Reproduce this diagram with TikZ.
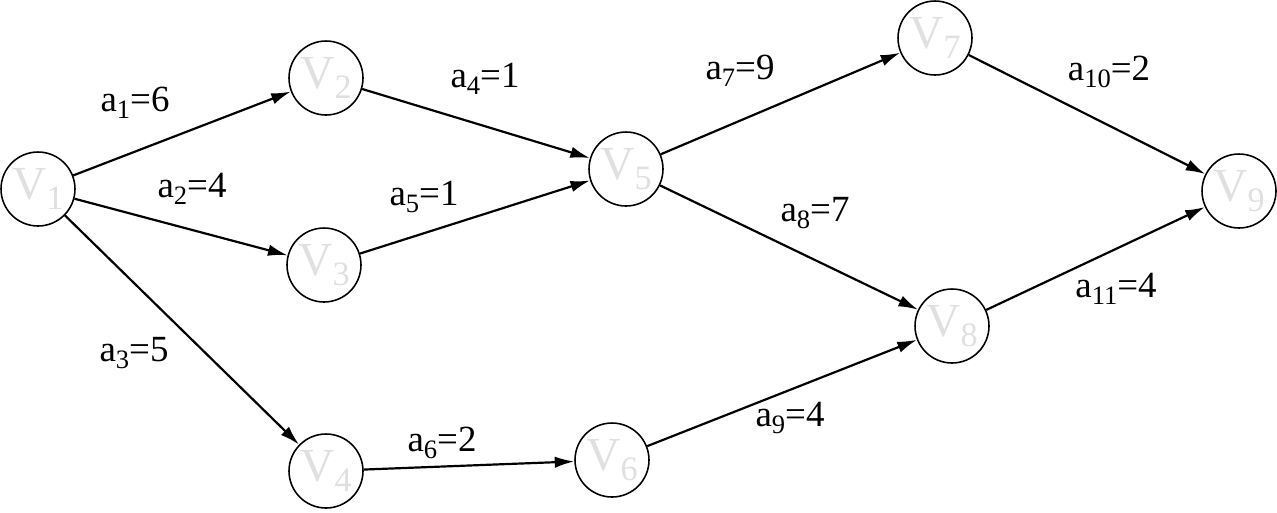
\documentclass[tikz,border=0pt]{standalone}
\usepackage{fontspec}
\setmainfont{Liberation Serif}
\usetikzlibrary{arrows.meta}
\newcommand{\idx}[1]{\raisebox{-0.45ex}{\scalebox{0.72}{#1}}}

\begin{document}
\begin{tikzpicture}[x=0.02cm,y=-0.02cm,
  vertex/.style={circle,draw=black,line width=0.9pt,minimum size=1.48cm,inner sep=0pt,
    text=black!12,font=\fontsize{27}{30}\selectfont},
  arc/.style={-{Latex[length=3.9mm,width=2.3mm]},line width=1.25pt},
  weight/.style={font=\fontsize{21}{24}\selectfont,inner sep=0pt,anchor=base}]
\useasboundingbox (0,0) rectangle (1277,512);

% vertices
\node[vertex] (V1) at (38,189)  {V\idx{1}};
\node[vertex] (V2) at (326,78)  {V\idx{2}};
\node[vertex] (V3) at (324,265) {V\idx{3}};
\node[vertex] (V4) at (326,471) {V\idx{4}};
\node[vertex] (V5) at (626,169) {V\idx{5}};
\node[vertex] (V6) at (612,460) {V\idx{6}};
\node[vertex] (V7) at (935,38)  {V\idx{7}};
\node[vertex] (V8) at (952,326) {V\idx{8}};
\node[vertex] (V9) at (1239,191) {V\idx{9}};

% arcs
\path (V1) edge [arc] (V2);
\path (V1) edge [arc] (V3);
\path (V1) edge [arc] (V4);
\path (V2) edge [arc] (V5);
\path (V3) edge [arc] (V5);
\path (V4) edge [arc] (V6);
\path (V5) edge [arc] (V7);
\path (V5) edge [arc] (V8);
\path (V6) edge [arc] (V8);
\path (V7) edge [arc] (V9);
\path (V8) edge [arc] (V9);

% weights
\node[weight] (w1)  at (135,111)  {a\idx{1}=6};
\node[weight] (w2)  at (192,197)  {a\idx{2}=4};
\node[weight] (w3)  at (134,361)  {a\idx{3}=5};
\node[weight] (w4)  at (485,87)   {a\idx{4}=1};
\node[weight] (w5)  at (424,205)  {a\idx{5}=1};
\node[weight] (w6)  at (442,451)  {a\idx{6}=2};
\node[weight] (w7)  at (740,79)   {a\idx{7}=9};
\node[weight] (w8)  at (815,221)  {a\idx{8}=7};
\node[weight] (w9)  at (790,426)  {a\idx{9}=4};
\node[weight] (w10) at (1109,80)  {a\idx{10}=2};
\node[weight] (w11) at (1116,297) {a\idx{11}=4};

\end{tikzpicture}
\end{document}
